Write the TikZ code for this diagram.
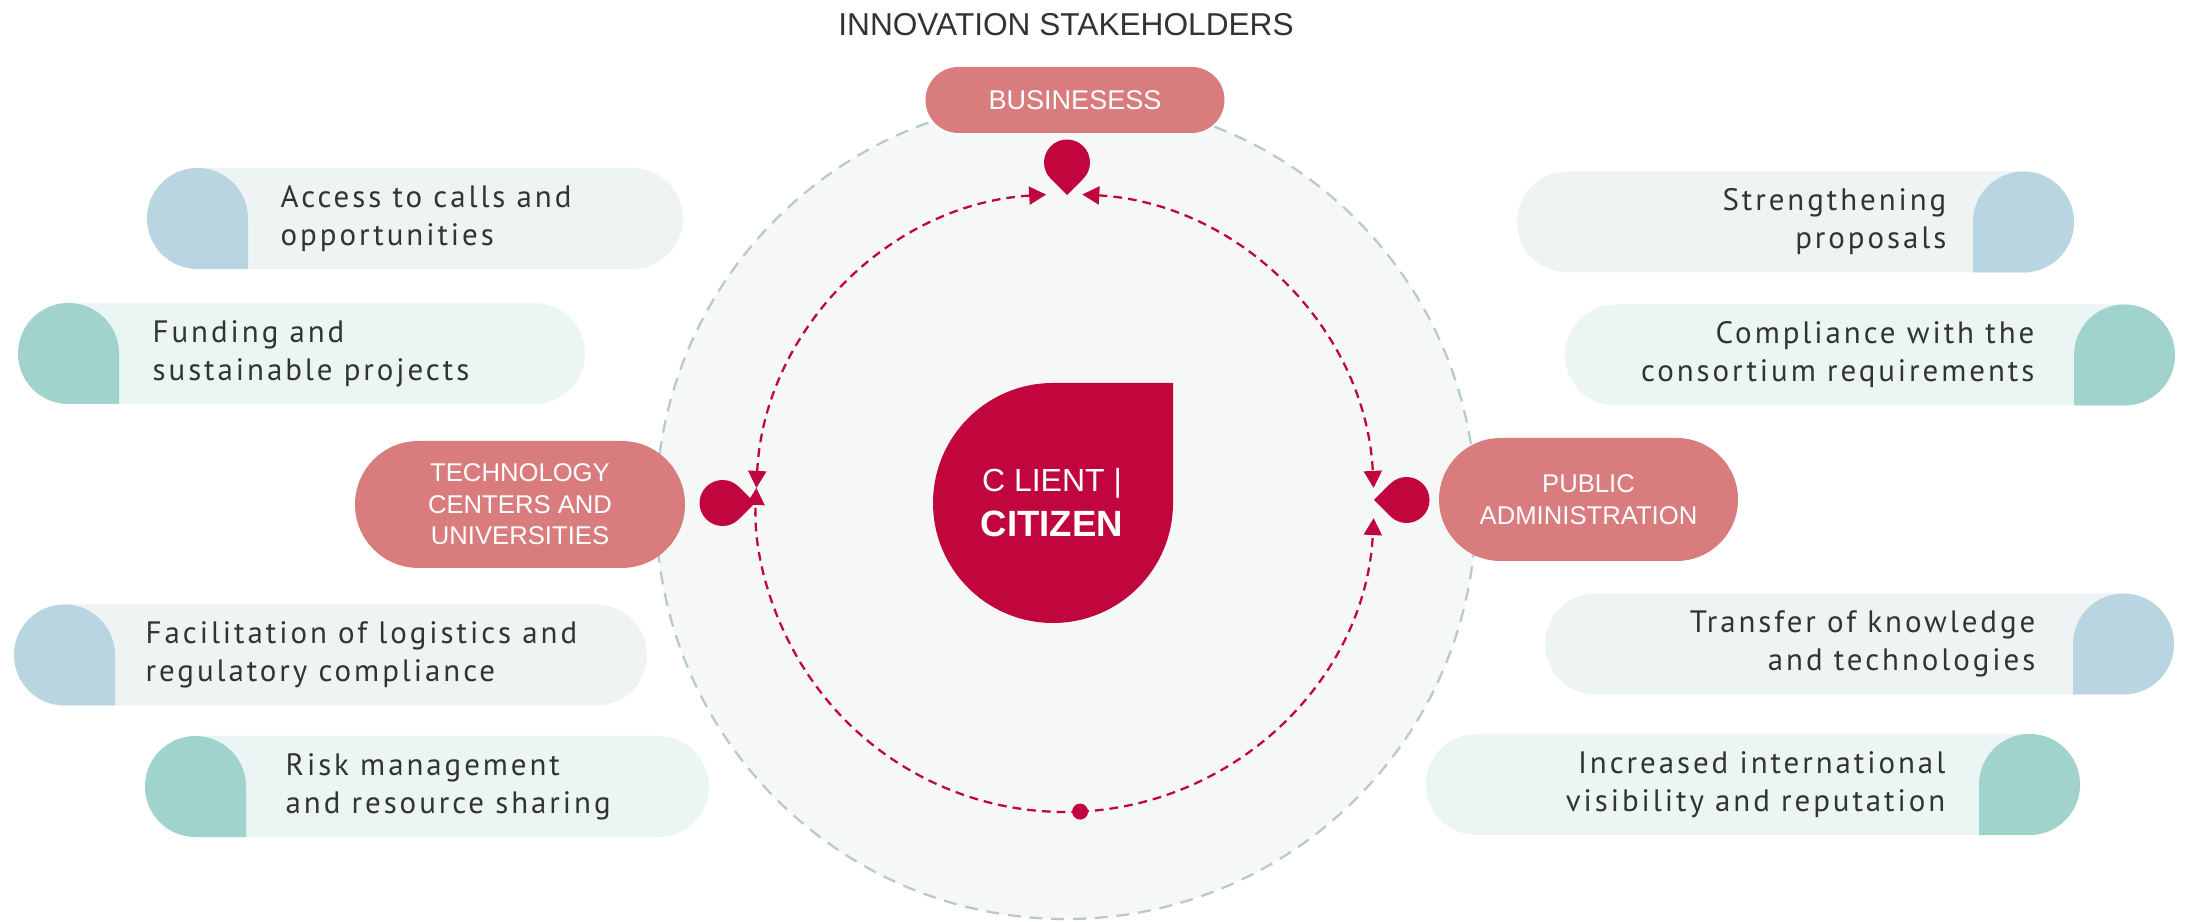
\documentclass[tikz,border=0pt]{standalone}
\usepackage{fontspec}
\setmainfont{Liberation Sans}
\newfontfamily\boxfont[LetterSpace=9.5]{PT Sans}
\usetikzlibrary{arrows.meta,shapes.misc}

\definecolor{crimson}{HTML}{C0063C}
\definecolor{salmon}{HTML}{D87C7E}
\definecolor{ringfill}{HTML}{F6F8F8}
\definecolor{ringline}{HTML}{B8C9D2}
\definecolor{capblue}{HTML}{B9D5E1}
\definecolor{capteal}{HTML}{9FD3CC}
\definecolor{boxblue}{HTML}{EEF3F4}
\definecolor{boxteal}{HTML}{EBF5F4}
\definecolor{darktext}{HTML}{333333}

\tikzset{
  actor/.style={rounded rectangle, fill=salmon, text=white, align=center,
    font=\fontsize{7.3}{9}\selectfont, inner sep=0pt},
  infobox/.style={rounded rectangle, minimum height=1.01cm, inner sep=0pt},
  infotext/.style={text=darktext, font=\boxfont\fontsize{8.8}{10.8}\selectfont, inner sep=0pt},
  flow/.style={draw=crimson, line width=0.65pt, dash pattern=on 2.5pt off 1.7pt,
    >={Triangle[length=0.17cm,width=0.18cm]}},
}

% drop: circle with one square corner, corner at 45 deg before rotation
\newcommand{\dropmark}[5]{%
  \begin{scope}[shift={(#1,#2)},rotate=#4]
    \fill[#5] (#3,0) -- (#3,#3) -- (0,#3) arc[start angle=90,end angle=360,radius=#3] -- cycle;
  \end{scope}}

\begin{document}
\begin{tikzpicture}
\useasboundingbox (0,0) rectangle (21.86,9.21);

\node[text=darktext, font=\fontsize{9}{11}\selectfont] (title) at (10.66,8.96) {INNOVATION STAKEHOLDERS};

% ring
\filldraw[fill=ringfill, draw=ringline, line width=0.65pt, dash pattern=on 3.7pt off 2.5pt] (10.66,4.12) circle (4.10);

\coordinate (hub) at (10.65,4.18);
\coordinate (dot) at ([shift={(-87.2:3.09)}]hub);
\coordinate (topl) at ([shift={(93.5:3.09)}]hub);
\coordinate (topr) at ([shift={(86.8:3.09)}]hub);
\draw[flow,<->] (topl) arc[start angle=93.5,end angle=177.2,radius=3.09];
\draw[flow,<->] (topr) arc[start angle=86.8,end angle=2.8,radius=3.09];
\draw[flow,->] (dot) arc[start angle=-87.2,end angle=-182.8,radius=3.09];
\draw[flow,->] (dot) arc[start angle=-87.2,end angle=-2.8,radius=3.09];
\fill[crimson] (dot) circle (0.08);

\node[actor, minimum width=2.99cm, minimum height=0.66cm, font=\fontsize{7.7}{9}\selectfont] (biz) at (10.75,8.21) {BUSINESESS};
\node[actor, minimum width=3.30cm, minimum height=1.27cm] (tech) at (5.20,4.165) {TECHNOLOGY\\CENTERS AND\\UNIVERSITIES};
\node[actor, minimum width=2.99cm, minimum height=1.23cm] (pub) at (15.885,4.215) {PUBLIC\\ADMINISTRATION};

\dropmark{10.67}{7.585}{0.23}{225}{crimson}
\dropmark{7.225}{4.18}{0.23}{-45}{crimson}
\dropmark{14.065}{4.21}{0.23}{135}{crimson}

\dropmark{10.53}{4.18}{1.20}{0}{crimson}
\node[text=white, font=\fontsize{9.1}{11}\selectfont, anchor=base] (client) at (10.52,4.29) {C LIENT |};
\node[text=white, font=\bfseries\fontsize{10.4}{12}\selectfont, anchor=base] (citizen) at (10.52,3.84) {CITIZEN};

% left side
\node[infobox, fill=boxblue, minimum width=5.36cm] (b1) at (4.15,7.025) {};
\dropmark{1.975}{7.025}{0.505}{-90}{capblue}
\node[infotext, anchor=west, align=left] (t1) at (2.80,7.025) {Access to calls and\\opportunities};

\node[infobox, fill=boxteal, minimum width=5.67cm] (b2) at (3.015,5.675) {};
\dropmark{0.685}{5.675}{0.505}{-90}{capteal}
\node[infotext, anchor=west, align=left] (t2) at (1.52,5.675) {Funding and\\sustainable projects};

\node[infobox, fill=boxblue, minimum width=6.33cm] (b3) at (3.305,2.66) {};
\dropmark{0.645}{2.66}{0.505}{-90}{capblue}
\node[infotext, anchor=west, align=left] (t3) at (1.45,2.66) {Facilitation of logistics and\\regulatory compliance};

\node[infobox, fill=boxteal, minimum width=5.64cm] (b4) at (4.27,1.345) {};
\dropmark{1.955}{1.345}{0.505}{-90}{capteal}
\node[infotext, anchor=west, align=left] (t4) at (2.85,1.345) {Risk management\\and resource sharing};

% right side
\node[infobox, fill=boxblue, minimum width=5.57cm] (b5) at (17.955,6.99) {};
\dropmark{20.235}{6.99}{0.505}{180}{capblue}
\node[infotext, anchor=east, align=right] (t5) at (19.47,6.99) {Strengthening\\proposals};

\node[infobox, fill=boxteal, minimum width=6.10cm] (b6) at (18.70,5.66) {};
\dropmark{21.245}{5.66}{0.505}{180}{capteal}
\node[infotext, anchor=east, align=right] (t6) at (20.35,5.66) {Compliance with the\\consortium requirements};

\node[infobox, fill=boxblue, minimum width=6.29cm] (b7) at (18.595,2.77) {};
\dropmark{21.235}{2.77}{0.505}{180}{capblue}
\node[infotext, anchor=east, align=right] (t7) at (20.36,2.77) {Transfer of knowledge\\and technologies};

\node[infobox, fill=boxteal, minimum width=6.54cm] (b8) at (17.53,1.365) {};
\dropmark{20.295}{1.365}{0.505}{180}{capteal}
\node[infotext, anchor=east, align=right] (t8) at (19.46,1.365) {Increased international\\visibility and reputation};

\end{tikzpicture}
\end{document}
